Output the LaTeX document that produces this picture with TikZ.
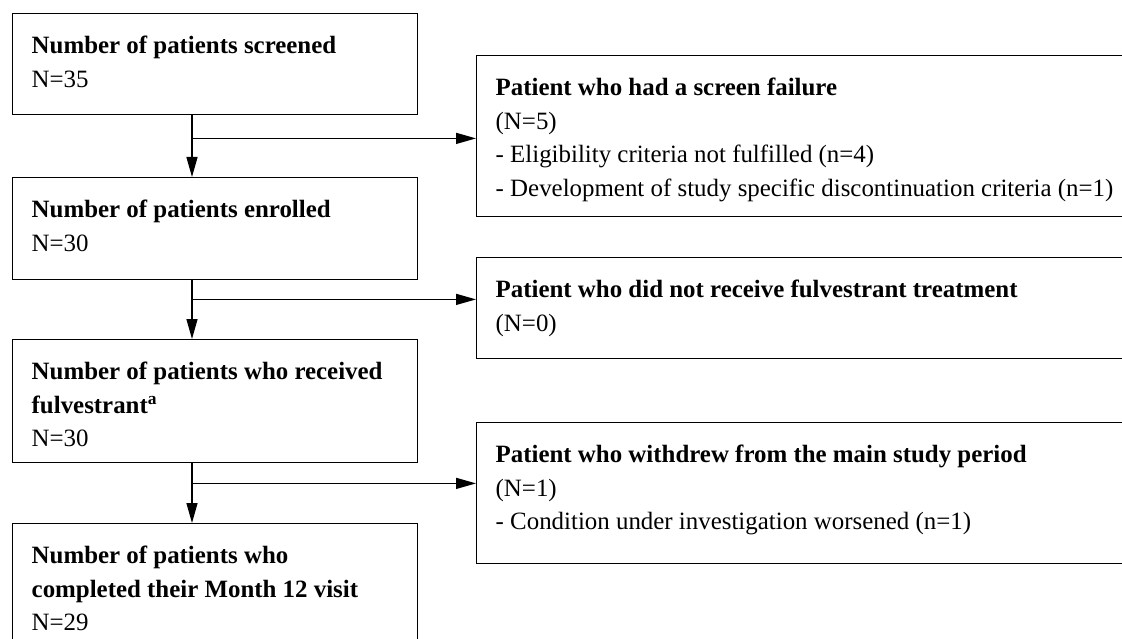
\documentclass[tikz,border=0pt]{standalone}
\usepackage{fontspec}
\setmainfont{Liberation Serif}
\usetikzlibrary{arrows.meta}
\newcommand\boxtxt[3]{\parbox[c][#2][t]{#1}{\vspace*{16.5pt}\raggedright\leftskip=19pt\relax\strut #3}}
\begin{document}
\begin{tikzpicture}[x=1pt,y=-1pt,
  box/.style={draw, line width=1.4pt, inner sep=0pt, anchor=north west, font=\fontsize{24.9}{33.5}\selectfont},
  arr/.style={line width=1.4pt, -{Triangle[length=20pt,width=11pt]}}]
\useasboundingbox (0,0) rectangle (1122,639);
\clip (0,0) rectangle (1122,639);
\fill[white] (0,0) rectangle (1122,639);
% main column
\node[box] (s) at (12,13) {\boxtxt{405pt}{101pt}{\textbf{Number of patients screened}\\N=35}};
\node[box] (e) at (12,177) {\boxtxt{405pt}{102pt}{\textbf{Number of patients enrolled}\\N=30}};
\node[box] (r) at (12,339) {\boxtxt{405pt}{123pt}{\textbf{Number of patients who received}\\\textbf{fulvestrant\textsuperscript{a}}\\N=30}};
\node[box] (c) at (12,523) {\boxtxt{405pt}{160pt}{\textbf{Number of patients who}\\\textbf{completed their Month 12 visit}\\N=29}};
% side boxes
\node[box] (f1) at (476,55) {\boxtxt{700pt}{161pt}{\textbf{Patient who had a screen failure}\\(N=5)\\- Eligibility criteria not fulfilled (n=4)\\- Development of study specific discontinuation criteria (n=1)}};
\node[box] (f2) at (476,257) {\boxtxt{700pt}{101pt}{\textbf{Patient who did not receive fulvestrant treatment}\\(N=0)}};
\node[box] (f3) at (476,422) {\boxtxt{700pt}{141pt}{\textbf{Patient who withdrew from the main study period}\\(N=1)\\- Condition under investigation worsened (n=1)}};
% connectors
\draw[arr] ([xshift=180pt]s.south west) -- ([xshift=180pt]e.north west);
\draw[arr] ([xshift=180pt]e.south west) -- ([xshift=180pt]r.north west);
\draw[arr] ([xshift=180pt]r.south west) -- ([xshift=180pt]c.north west);
\coordinate (j1) at ([xshift=180pt,yshift=-23pt]s.south west);
\coordinate (j2) at ([xshift=180pt,yshift=-19pt]e.south west);
\coordinate (j3) at ([xshift=180pt,yshift=-20pt]r.south west);
\draw[arr] (j1) -- (j1 -| f1.west);
\draw[arr] (j2) -- (j2 -| f2.west);
\draw[arr] (j3) -- (j3 -| f3.west);
\end{tikzpicture}
\end{document}
